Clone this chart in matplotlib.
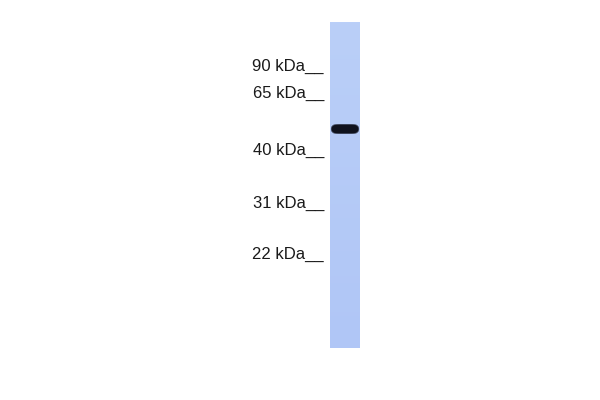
import numpy as np
import matplotlib
matplotlib.use("Agg")
import matplotlib.pyplot as plt

marker_kda = [90, 65, 40, 31, 22]
marker_y = [66, 93, 150, 203, 254]

# lane extent in pixels
lane_x = (330, 360)
lane_y = (22, 348)

# detected band: row, half thickness, darkness (0..1)
band_y = [129]
band_h = [5.5]
band_strength = [1.0]

plt.rcParams['font.family'] = ['Liberation Sans', 'DejaVu Sans']

fig = plt.figure(figsize=(6, 4), dpi=100)
ax = fig.add_axes([0, 0, 1, 1])
ax.set_xlim(0, 600)
ax.set_ylim(400, 0)
ax.axis('off')

# build lane image, a touch lighter at the top
h = lane_y[1] - lane_y[0]
w = lane_x[1] - lane_x[0]
yy, xx = np.mgrid[0:h, 0:w]
top = np.array([186, 207, 248]) / 255.0
bot = np.array([176, 198, 246]) / 255.0
t = (yy / h)[..., None]
img = top * (1 - t) + bot * t
dark = np.array([15, 18, 30]) / 255.0
rows = yy + lane_y[0] + 0.5
xc = (xx + 0.5 - w / 2) / (w / 2)
for by, bh, bs in zip(band_y, band_h, band_strength):
    # rounded, lens-like band
    r = np.sqrt(((rows - by) / bh) ** 2 + np.clip(np.abs(xc) / 0.97, 0, None) ** 6)
    a = np.clip(1.6 * (1 - r ** 3), 0, 1) * bs
    img = img * (1 - a[..., None]) + dark * a[..., None]
ax.imshow(img, extent=(lane_x[0], lane_x[1], lane_y[1], lane_y[0]),
          interpolation='bilinear', aspect='auto')

for kda, y in zip(marker_kda, marker_y):
    ax.text(324, y, f"{kda} kDa__", ha='right', va='center',
            fontsize=12, color='#1a1a1a')

fig.savefig("out.png", dpi=100)
